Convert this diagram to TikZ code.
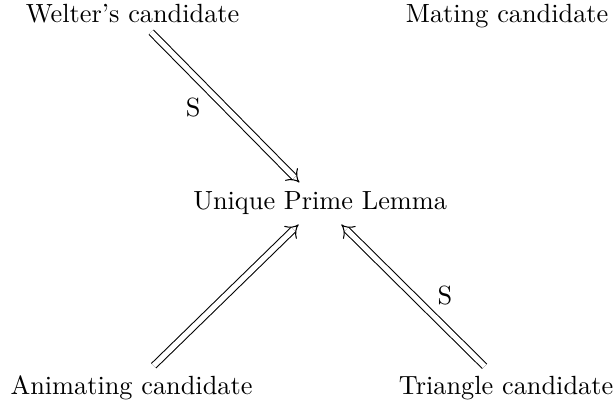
\documentclass[tikz,border=0pt]{standalone}
\usetikzlibrary{arrows.meta}
\begin{document}
\begin{tikzpicture}[x=1pt,y=1pt,
  obj/.style={anchor=base, inner sep=3.4pt},
  dbl/.style={double, double distance=2pt, line width=0.4pt, -{Implies}},
  lbl/.style={inner sep=0pt}]
\useasboundingbox (0,0) rectangle (233.8,-155.5);
% objects
\node[obj] (W) at (50.4,-8.4)  {Welter's candidate};
\node[obj] (M) at (192.8,-8.4) {Mating candidate};
\node[obj] (U) at (121.7,-79.8) {Unique Prime Lemma};
\node[obj] (A) at (50.0,-149.8) {Animating candidate};
\node[obj] (T) at (192.4,-149.8) {Triangle candidate};
% implications
\draw[dbl] (W) -- (U) node[lbl, midway, xshift=-12.2pt] {S};
\draw[dbl] (A) -- (U);
\draw[dbl] (T) -- (U) node[lbl, midway, xshift=12.2pt] {S};
\end{tikzpicture}
\end{document}
